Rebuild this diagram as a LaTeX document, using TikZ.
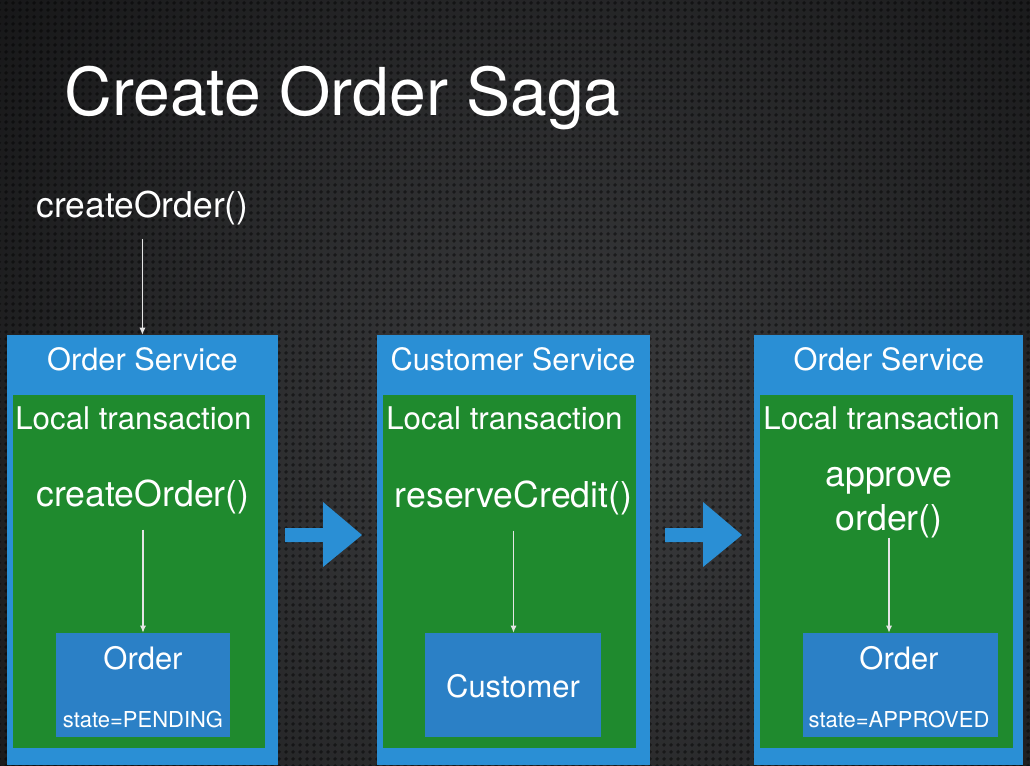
\documentclass[tikz,border=0pt]{standalone}
\usepackage{fontspec}
\setmainfont{TeX Gyre Heros}
\usepackage{tikz}
\usetikzlibrary{positioning,fit,arrows.meta,patterns.meta,shadings}

\definecolor{bgdark}{HTML}{0B0B0C}
\definecolor{bgmid}{HTML}{3C3D3F}
\definecolor{svcblue}{HTML}{2A8FD5}
\definecolor{txgreen}{HTML}{1F8A2E}
\definecolor{entblue}{HTML}{2B80C6}

\tikzdeclarepattern{
  name=meshholes, type=uncolored,
  bounding box={(-2pt,-2pt) and (2pt,2pt)},
  tile size={(4pt,4pt)},
  code={\fill (0pt,0pt) circle (1.25pt);}
}

\tikzset{
  svcbox/.style={fill=svcblue, inner sep=0pt},
  txbox/.style={fill=txgreen, inner sep=0pt},
  entbox/.style={fill=entblue, inner sep=0pt},
  svclabel/.style={anchor=base, text=white, inner sep=0pt, font=\fontsize{17.5}{21}\selectfont},
  txlabel/.style={anchor=base west, text=white, inner sep=0pt, font=\fontsize{17.8}{21}\selectfont},
  oplabel/.style={anchor=base, text=white, inner sep=0pt, align=center, font=\fontsize{20.3}{25}\selectfont},
  entlabel/.style={anchor=base, text=white, inner sep=0pt, font=\fontsize{17.6}{21}\selectfont},
  statelabel/.style={anchor=base, text=white, inner sep=0pt, font=\fontsize{12.5}{15}\selectfont},
  callarrow/.style={draw=white!90!black, line width=0.6pt, -{Latex[length=4pt,width=3.5pt]}}
}

\begin{document}
\begin{tikzpicture}[x=0.02cm, y=-0.02cm]
\useasboundingbox (0,0) rectangle (1030,765);
\clip (0,0) rectangle (1030,765);

% background
\shade[inner color=bgmid, outer color=bgdark] (-400,-500) rectangle (1520,1400);
\fill[pattern=meshholes, pattern color=black, fill opacity=0.45] (0,0) rectangle (1030,765);

\node[anchor=base west, text=white, inner sep=0pt, font=\fontsize{37.6}{44}\selectfont] (title) at (64,115) {Create Order Saga};
\node[anchor=base west, text=white, inner sep=0pt, font=\fontsize{20.2}{25}\selectfont] (call) at (36,217) {createOrder()};

% services
\node[svcbox, fit={(7,335) (278,765)}] (svc1) {};
\node[svcbox, fit={(377,335) (650,765)}] (svc2) {};
\node[svcbox, fit={(754,335) (1023,765)}] (svc3) {};

\node[txbox, fit={(13,395) (265,748)}] (tx1) {};
\node[txbox, fit={(383,395) (636,748)}] (tx2) {};
\node[txbox, fit={(760,395) (1013,748)}] (tx3) {};

\node[entbox, fit={(56,633) (230,737)}] (ent1) {};
\node[entbox, fit={(425,633) (601,737)}] (ent2) {};
\node[entbox, fit={(803,633) (998,737)}] (ent3) {};

% labels
\node[svclabel] (svcname1) at (142.5,370) {Order Service};
\node[svclabel] (svcname2) at (513,370) {Customer Service};
\node[svclabel] (svcname3) at (889,370) {Order Service};

\node[txlabel] (txname1) at (15,429) {Local transaction};
\node[txlabel] (txname2) at (386,429) {Local transaction};
\node[txlabel] (txname3) at (763,429) {Local transaction};

\node[oplabel] (op1) at (143,506) {createOrder()};
\node[oplabel] (op2) at (513.5,507) {reserveCredit()};
\node[oplabel] (op3) at (889,530) {approve\\order()};

\node[entlabel] (ordname1) at (143,669) {Order};
\node[statelabel] (ordstate1) at (143,727) {state=PENDING};
\node[entlabel] (custname) at (513,697) {Customer};
\node[entlabel] (ordname3) at (899,669) {Order};
\node[statelabel] (ordstate3) at (899,727) {state=APPROVED};

% calls
\draw[callarrow, shorten <=8pt] (call.south) -- (call.south |- svc1.north);
\draw[callarrow, shorten <=9pt] (op1.south) -- (op1.south |- ent1.north);
\draw[callarrow, shorten <=9pt] (op2.south) -- (op2.south |- ent2.north);
\draw[callarrow] (op3.south) -- (op3.south |- ent3.north);

% saga steps
\foreach \x in {285,665}
  \fill[svcblue] (\x,528) -- ++(38,0) -- ++(0,-26) -- ({\x+77},535) -- ({\x+38},567) -- ++(0,-25) -- (\x,542) -- cycle;
\end{tikzpicture}
\end{document}
